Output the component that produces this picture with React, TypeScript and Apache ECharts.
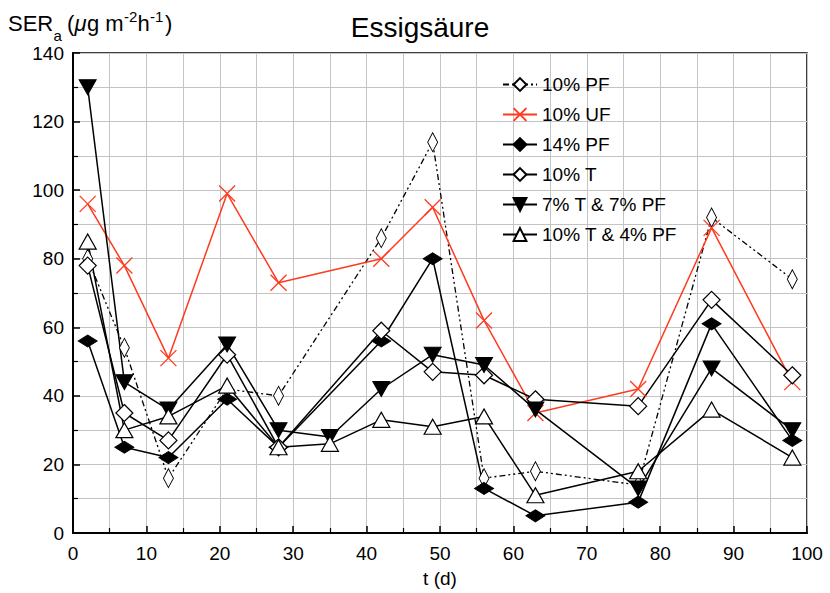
import React, { useEffect, useRef } from "react";
import * as echarts from "echarts";

const days = [2, 7, 13, 21, 28, 35, 42, 49, 56, 63, 77, 87, 98];
// null = no measurement at that day
const pf10 = [80, 54, 16, 42, 40, null, 86, 114, 16, 18, 14, 92, 74];
const uf10 = [96, 78, 51, 99, 73, null, 80, 95, 62, 35, 42, 89, 44];
const pf14 = [56, 25, 22, 39, 25, null, 56, 80, 13, 5, 9, 61, 27];
const t10 = [78, 35, 27, 52, 25, null, 59, 47, 46, 39, 37, 68, 46];
const t7pf7 = [130, 44, 36, 55, 30, 28, 42, 52, 49, 36, 13, 48, 30];
const t10pf4 = [85, 30, 34, 43, 25, 26, 33, 31, 34, 11, 18, 36, 22];

const seriesNames = ["10% PF", "10% UF", "14% PF", "10% T", "7% T & 7% PF", "10% T & 4% PF"];

const pairs = (vals: (number | null)[]) =>
  days.map((d, i) => [d, vals[i]]).filter((p) => p[1] !== null);

const FONT = "'Liberation Sans', Arial, sans-serif";

export default function App() {
  const ref = useRef<HTMLDivElement>(null);
  useEffect(() => {
    if (!ref.current) return;
    const chart = echarts.init(ref.current, undefined, { renderer: "svg" });
    const black = "#000";
    const red = "#ff3a1f";
    const base = (name: string, data: any, color: string, extra: any) => ({
      name,
      type: "line",
      data,
      connectNulls: true,
      lineStyle: { color, width: 1.5 },
      itemStyle: { color, borderColor: color, borderWidth: 1.2 },
      emphasis: { disabled: true },
      ...extra,
    });
    const txt = (text: string, x: number, y: number, size: number, italic = false) => ({
      type: "text",
      x,
      y,
      style: {
        text,
        font: `${italic ? "italic " : ""}${size}px ${FONT}`,
        fill: "#000",
        align: "left",
        verticalAlign: "middle",
      },
    });
    chart.setOption({
      animation: false,
      backgroundColor: "#fff",
      legend: {
        orient: "vertical",
        left: 497,
        top: 70,
        itemWidth: 34,
        itemHeight: 16,
        itemGap: 11,
        textStyle: { fontFamily: FONT, fontSize: 19, color: "#000" },
        data: seriesNames,
      },
      grid: {
        left: 73,
        right: 23,
        top: 53,
        bottom: 59,
        show: true,
        borderColor: "#000",
        borderWidth: 1.5,
      },
      xAxis: {
        type: "value",
        min: 0,
        max: 100,
        interval: 10,
        name: "t (d)",
        nameLocation: "middle",
        nameGap: 36,
        nameTextStyle: { fontFamily: FONT, fontSize: 19, color: "#000" },
        axisLine: { show: true, lineStyle: { color: "#000", width: 2 } },
        axisTick: { show: true, inside: true, length: 7, lineStyle: { color: "#000", width: 1.5 } },
        minorTick: { show: true, splitNumber: 2, length: 5, lineStyle: { color: "#000", width: 1.2 } },
        splitLine: { show: true, lineStyle: { color: "#c4c4c4", width: 1 } },
        minorSplitLine: { show: true, lineStyle: { color: "#c4c4c4", width: 1 } },
        axisLabel: { fontFamily: FONT, fontSize: 19, color: "#000", margin: 11 },
      },
      yAxis: {
        type: "value",
        min: 0,
        max: 140,
        interval: 20,
        axisLine: { show: true, lineStyle: { color: "#000", width: 2 } },
        axisTick: { show: true, inside: true, length: 7, lineStyle: { color: "#000", width: 1.5 } },
        minorTick: { show: true, splitNumber: 2, length: 5, lineStyle: { color: "#000", width: 1.2 } },
        splitLine: { show: true, lineStyle: { color: "#c4c4c4", width: 1 } },
        minorSplitLine: { show: true, lineStyle: { color: "#c4c4c4", width: 1 } },
        axisLabel: { fontFamily: FONT, fontSize: 19, color: "#000", margin: 9 },
      },
      graphic: [
        {
          type: "text",
          x: 420,
          y: 27,
          style: {
            text: "Essigsäure",
            font: `28px ${FONT}`,
            fill: "#000",
            align: "center",
            verticalAlign: "middle",
          },
        },
        txt("SER", 8, 23.5, 22),
        txt("a", 53.5, 35, 15),
        txt("(", 67, 23.5, 22),
        txt("μ", 74.5, 23.5, 22, true),
        txt("g m", 87, 23.5, 22),
        txt("-2", 124, 16, 15),
        txt("h", 137.5, 23.5, 22),
        txt("-1", 150, 16, 15),
        txt(")", 165, 23.5, 22),
      ],
      series: [
        base(seriesNames[0], pairs(pf10), black, {
          symbol: "diamond",
          symbolSize: [10, 19],
          lineStyle: { color: black, width: 1.3, type: [6, 3, 2, 3, 2, 3] },
          itemStyle: { color: "#fff", borderColor: black, borderWidth: 1 },
        }),
        base(seriesNames[1], pairs(uf10), red, {
          symbol: "path://M0,0L10,10M10,0L0,10",
          symbolSize: 16,
          itemStyle: { color: "none", borderColor: red, borderWidth: 1.3 },
          z: 3,
        }),
        base(seriesNames[2], pairs(pf14), black, {
          symbol: "diamond",
          symbolSize: [19, 12],
          itemStyle: { color: black, borderColor: black, borderWidth: 1 },
        }),
        base(seriesNames[3], pairs(t10), black, {
          symbol: "diamond",
          symbolSize: [17, 17],
          itemStyle: { color: "#fff", borderColor: black, borderWidth: 1.2 },
        }),
        base(seriesNames[4], pairs(t7pf7), black, {
          symbol: "triangle",
          symbolRotate: 180,
          symbolSize: [17, 15],
          itemStyle: { color: black, borderColor: black, borderWidth: 1 },
        }),
        base(seriesNames[5], pairs(t10pf4), black, {
          symbol: "triangle",
          symbolSize: [17, 15],
          itemStyle: { color: "#fff", borderColor: black, borderWidth: 1.2 },
        }),
      ],
    });
    return () => chart.dispose();
  }, []);
  return <div ref={ref} style={{ width: 830, height: 593, position: "absolute", left: 0, top: 0 }} />;
}
